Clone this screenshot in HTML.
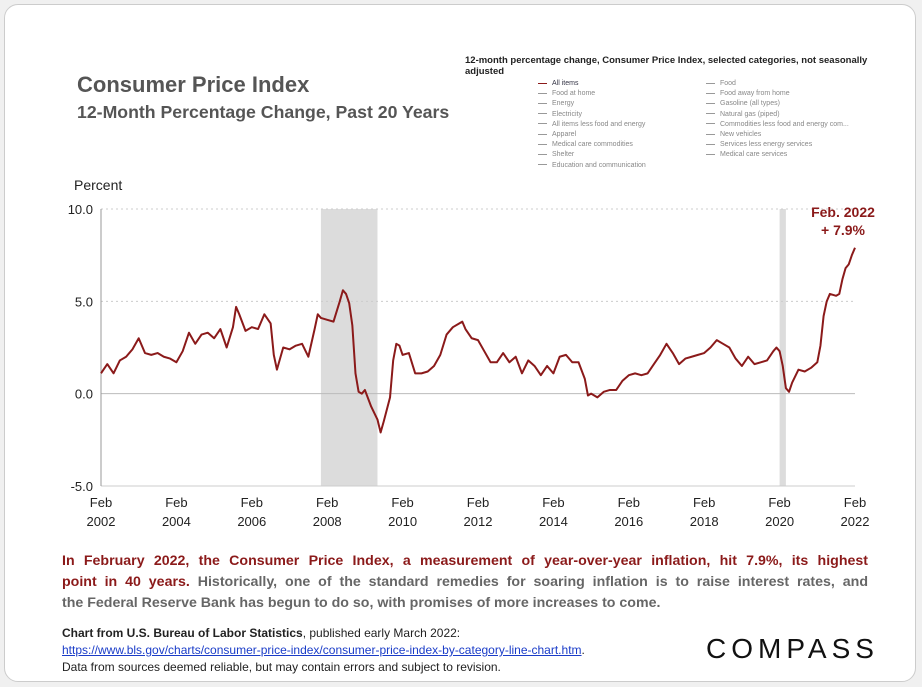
<!DOCTYPE html>
<html><head><meta charset="utf-8"><style>
body{margin:0;width:922px;height:687px;background:#f0f0f0;font-family:"Liberation Sans",sans-serif;overflow:hidden}
#card{position:absolute;left:4px;top:4px;width:912px;height:678px;background:#fff;border:1px solid #ccc;border-radius:14px;box-sizing:border-box}
.t{position:absolute;white-space:nowrap}
.jl{text-align:justify;text-align-last:justify;white-space:normal}
</style></head><body>
<div id="card"></div>
<div class="t" style="left:77px;top:72px;font-size:22px;font-weight:bold;color:#555">Consumer Price Index</div>
<div class="t" style="left:77px;top:102px;font-size:17.7px;font-weight:bold;color:#555">12-Month Percentage Change, Past 20 Years</div>
<div class="t" style="left:465px;top:55px;font-size:9.5px;font-weight:bold;color:#222;line-height:11px">12-month percentage change, Consumer Price Index, selected categories, not seasonally<br>adjusted</div>
<div id="legend"></div>
<svg id="chart" width="922" height="687" style="position:absolute;left:0;top:0"></svg>
<div class="t" style="left:62px;top:551px;width:806px;white-space:normal;font-size:14.2px;font-weight:bold;line-height:21px;color:#666">
<div class="jl"><span style="color:#8b1a1a">In February 2022, the Consumer Price Index, a measurement of year-over-year inflation, hit 7.9%, its highest</span></div>
<div class="jl"><span style="color:#8b1a1a">point in 40 years.</span> Historically, one of the standard remedies for soaring inflation is to raise interest rates, and</div>
<div>the Federal Reserve Bank has begun to do so, with promises of more increases to come.</div>
</div>
<div class="t" style="left:62px;top:625px;font-size:12px;line-height:17px;color:#222"><b>Chart from U.S. Bureau of Labor Statistics</b>, published early March 2022:<br><span style="color:#1a3cc8;text-decoration:underline">https://www.bls.gov/charts/consumer-price-index/consumer-price-index-by-category-line-chart.htm</span>.<br>Data from sources deemed reliable, but may contain errors and subject to revision.</div>
<div class="t" style="left:706px;top:633px;font-size:28px;letter-spacing:5px;color:#111">COMPASS</div>
<script>
const dates=["2002-02","2002-04","2002-06","2002-08","2002-10","2002-12","2003-02","2003-04","2003-06","2003-08","2003-10","2003-12","2004-02","2004-04","2004-06","2004-08","2004-10","2004-12","2005-02","2005-04","2005-06","2005-08","2005-09","2005-10","2005-12","2006-02","2006-04","2006-06","2006-08","2006-09","2006-10","2006-12","2007-02","2007-04","2007-06","2007-08","2007-10","2007-11","2007-12","2008-02","2008-04","2008-06","2008-07","2008-08","2008-09","2008-10","2008-11","2008-12","2009-01","2009-02","2009-04","2009-06","2009-07","2009-08","2009-10","2009-11","2009-12","2010-01","2010-02","2010-04","2010-06","2010-08","2010-10","2010-12","2011-02","2011-04","2011-06","2011-08","2011-09","2011-10","2011-12","2012-02","2012-04","2012-06","2012-08","2012-10","2012-12","2013-02","2013-04","2013-06","2013-08","2013-10","2013-12","2014-02","2014-04","2014-06","2014-08","2014-10","2014-12","2015-01","2015-02","2015-04","2015-06","2015-08","2015-10","2015-12","2016-02","2016-04","2016-06","2016-08","2016-10","2016-12","2017-02","2017-04","2017-06","2017-08","2017-10","2017-12","2018-02","2018-04","2018-06","2018-08","2018-10","2018-12","2019-02","2019-04","2019-06","2019-08","2019-10","2019-12","2020-01","2020-02","2020-03","2020-04","2020-05","2020-06","2020-08","2020-10","2020-12","2021-02","2021-03","2021-04","2021-05","2021-06","2021-08","2021-09","2021-10","2021-11","2021-12","2022-01","2022-02"];
const values=[1.1,1.6,1.1,1.8,2.0,2.4,3.0,2.2,2.1,2.2,2.0,1.9,1.7,2.3,3.3,2.7,3.2,3.3,3.0,3.5,2.5,3.6,4.7,4.3,3.4,3.6,3.5,4.3,3.8,2.1,1.3,2.5,2.4,2.6,2.7,2.0,3.5,4.3,4.1,4.0,3.9,5.0,5.6,5.4,4.9,3.7,1.1,0.1,0.0,0.2,-0.7,-1.4,-2.1,-1.5,-0.2,1.8,2.7,2.6,2.1,2.2,1.1,1.1,1.2,1.5,2.1,3.2,3.6,3.8,3.9,3.5,3.0,2.9,2.3,1.7,1.7,2.2,1.7,2.0,1.1,1.8,1.5,1.0,1.5,1.1,2.0,2.1,1.7,1.7,0.8,-0.1,0.0,-0.2,0.1,0.2,0.2,0.7,1.0,1.1,1.0,1.1,1.6,2.1,2.7,2.2,1.6,1.9,2.0,2.1,2.2,2.5,2.9,2.7,2.5,1.9,1.5,2.0,1.6,1.7,1.8,2.3,2.5,2.3,1.5,0.3,0.1,0.6,1.3,1.2,1.4,1.7,2.6,4.2,5.0,5.4,5.3,5.4,6.2,6.8,7.0,7.5,7.9];
const yTicks=[10,5,0,-5];
const yTickLabels=["10.0","5.0","0.0","-5.0"];
const xTickYears=[2002,2004,2006,2008,2010,2012,2014,2016,2018,2020,2022];
const recessions=[["2007-12","2009-06"],["2020-02","2020-04"]];
const NS="http://www.w3.org/2000/svg",svg=document.getElementById('chart');
const x0=101,x1=855,yTop=209,yBot=486;
function m(d){const[a,b]=d.split('-').map(Number);return (a-2002)*12+(b-2);}
function X(d){return x0+(x1-x0)*m(d)/240;}
function Y(v){return yBot-(v+5)/15*(yBot-yTop);}
function el(t,a,p){const e=document.createElementNS(NS,t);for(const k in a)e.setAttribute(k,a[k]);(p||svg).appendChild(e);return e;}
recessions.forEach(r=>{const e=el('rect',{x:X(r[0]),y:yTop,width:X(r[1])-X(r[0]),height:yBot-yTop,fill:'#dcdcdc'});

});
yTicks.forEach((v,i)=>{const g=el('line',{x1:x0,x2:x1,y1:Y(v),y2:Y(v),stroke:v===0?'#bbb':'#ccc','stroke-dasharray':v===0||v===-5?'':'2,3','stroke-width':1});


const t=el('text',{x:x0-8,y:Y(v)+5,'text-anchor':'end','font-size':13,fill:'#222','font-family':'Liberation Sans'});t.textContent=yTickLabels[i];

});
const ax=el('line',{x1:x0,x2:x0,y1:yTop,y2:yBot,stroke:'#999'});


xTickYears.forEach(yr=>{const xx=X(yr+'-02');['Feb',String(yr)].forEach((s,j)=>{const t=el('text',{x:xx,y:507+j*19,'text-anchor':'middle','font-size':13,fill:'#222','font-family':'Liberation Sans'});t.textContent=s;

});});
const yl=el('text',{x:74,y:190,'font-size':14,fill:'#222','font-family':'Liberation Sans'});yl.textContent='Percent';


const line=el('polyline',{points:dates.map((d,i)=>X(d)+','+Y(values[i])).join(' '),fill:'none',stroke:'#8b1a1a','stroke-width':2,'stroke-linejoin':'round'});


['Feb. 2022','+ 7.9%'].forEach((s,j)=>{const t=el('text',{x:843,y:217+j*18,'text-anchor':'middle','font-size':14,'font-weight':'bold',fill:'#8b1a1a','font-family':'Liberation Sans'});t.textContent=s;

});
const L1=["All items","Food at home","Energy","Electricity","All items less food and energy","Apparel","Medical care commodities","Shelter","Education and communication"];
const L2=["Food","Food away from home","Gasoline (all types)","Natural gas (piped)","Commodities less food and energy com...","New vehicles","Services less energy services","Medical care services"];
const leg=document.getElementById('legend');
[[L1,538],[L2,706]].forEach(([arr,lx])=>arr.forEach((s,i)=>{const d=document.createElement('div');d.className='t';
d.style.cssText=`left:${lx}px;top:${80+i*10.2}px;font-size:7px;color:${s==='All items'?'#334':'#888'}`;
d.innerHTML=`<span style="display:inline-block;width:9px;height:1px;background:${s==='All items'?'#8b1a1a':'#999'};vertical-align:middle;margin-right:5px"></span>${s}`;


leg.appendChild(d);}));
</script>
</body></html>
